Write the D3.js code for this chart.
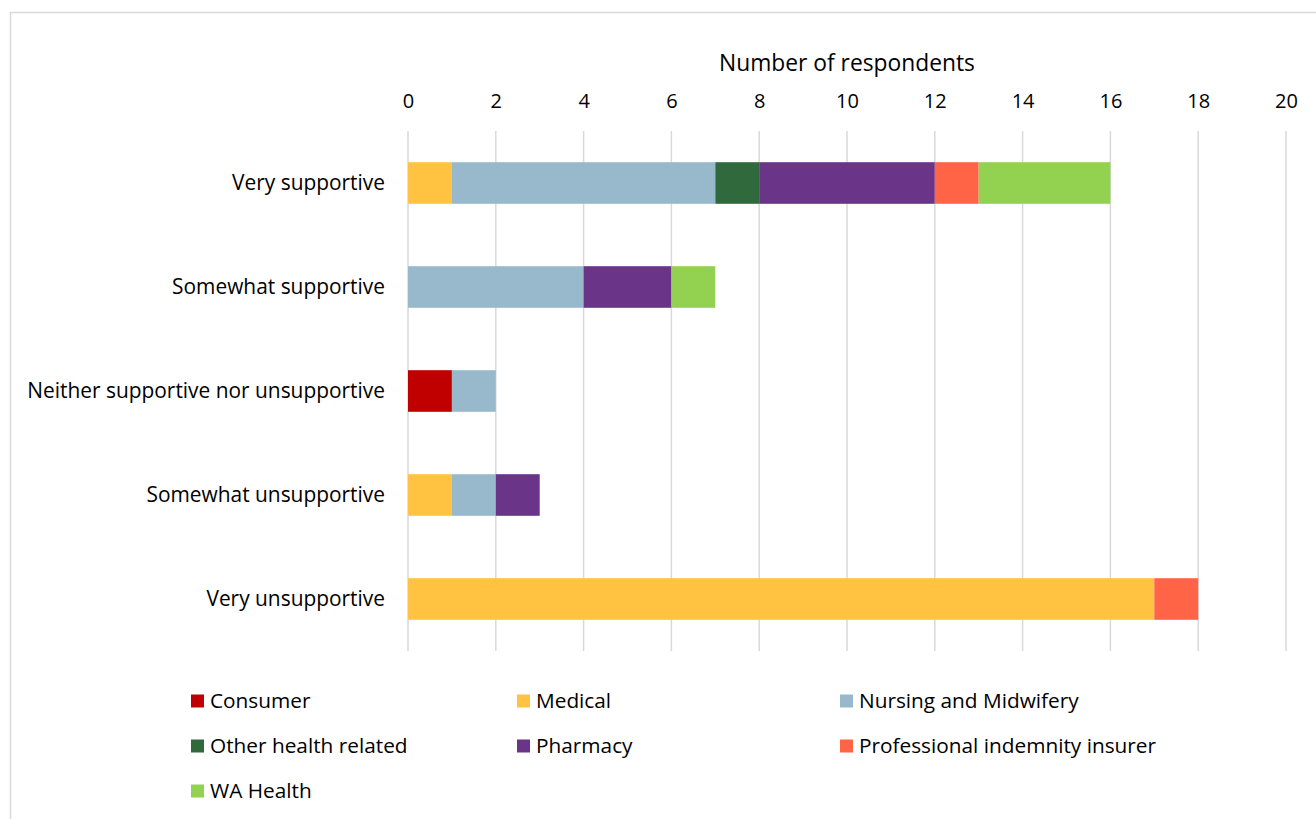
<!DOCTYPE html>
<html>
<head>
<meta charset="utf-8">
<script src="https://cdn.jsdelivr.net/npm/d3@7"></script>
<style>
  html, body { margin: 0; padding: 0; background: #fff; }
  svg { display: block; font-family: "Open Sans", "Noto Sans", sans-serif; }
</style>
</head>
<body>
<svg id="chart" width="1316" height="819"></svg>
<script>
const categories = [
  "Very supportive",
  "Somewhat supportive",
  "Neither supportive nor unsupportive",
  "Somewhat unsupportive",
  "Very unsupportive"
];
const seriesNames = [
  "Consumer",
  "Medical",
  "Nursing and Midwifery",
  "Other health related",
  "Pharmacy",
  "Professional indemnity insurer",
  "WA Health"
];
const seriesColors = ["#C00000", "#FFC341", "#97B9CB", "#30693B", "#6A3489", "#FF6446", "#93D150"];
// one value per category, in category order
const consumer      = [0, 0, 1, 0, 0];
const medical       = [1, 0, 0, 1, 17];
const nursing       = [6, 4, 1, 1, 0];
const otherHealth   = [1, 0, 0, 0, 0];
const pharmacy      = [4, 2, 0, 1, 0];
const indemnity     = [1, 0, 0, 0, 1];
const waHealth      = [3, 1, 0, 0, 0];
const xTicks = [0, 2, 4, 6, 8, 10, 12, 14, 16, 18, 20];
const axisTitle = "Number of respondents";

const seriesValues = [consumer, medical, nursing, otherHealth, pharmacy, indemnity, waHealth];
const rows = categories.map((c, i) => {
  const r = { category: c };
  seriesNames.forEach((s, j) => { r[s] = seriesValues[j][i]; });
  return r;
});

const FONT = "'Open Sans', 'Noto Sans', sans-serif";
const svg = d3.select("#chart");

// outer chart frame
svg.append("rect")
  .attr("x", 10.5).attr("y", 12.5)
  .attr("width", 1320).attr("height", 820)
  .attr("fill", "none").attr("stroke", "#d9d9d9").attr("stroke-width", 1.5);

const x = d3.scaleLinear().domain([0, 20]).range([408, 1286]);
const y = d3.scaleBand().domain(categories).range([131, 651])
  .paddingInner(0.6).paddingOuter(0.3);

// vertical gridlines
svg.append("g")
  .selectAll("line")
  .data(xTicks)
  .join("line")
  .attr("x1", d => x(d)).attr("x2", d => x(d))
  .attr("y1", 131).attr("y2", 651)
  .attr("stroke", "#d9d9d9").attr("stroke-width", 1.5);

// top axis labels
const xAxis = d3.axisTop(x).tickValues(xTicks).tickSize(0).tickPadding(0).tickFormat(d3.format("d"));
const gx = svg.append("g").attr("transform", "translate(0,108)").call(xAxis);
gx.select(".domain").remove();
gx.selectAll("text").attr("font-size", 20).attr("fill", "#000").attr("font-family", FONT);

svg.append("text")
  .attr("x", 847).attr("y", 71)
  .attr("text-anchor", "middle")
  .attr("font-size", 22.8).attr("fill", "#000")
  .text(axisTitle);

// category labels
const yAxis = d3.axisLeft(y).tickSize(0).tickPadding(23);
const gy = svg.append("g").attr("transform", "translate(408,0)").call(yAxis);
gy.select(".domain").remove();
gy.selectAll("text").attr("font-size", 20.9).attr("fill", "#000").attr("font-family", FONT);

// stacked bars
const stack = d3.stack().keys(seriesNames)(rows);
const color = d3.scaleOrdinal().domain(seriesNames).range(seriesColors);

svg.append("g")
  .selectAll("g")
  .data(stack)
  .join("g")
  .attr("fill", d => color(d.key))
  .selectAll("rect")
  .data(d => d.filter(p => p[1] - p[0] > 0))
  .join("rect")
  .attr("x", d => x(d[0]))
  .attr("width", d => x(d[1]) - x(d[0]))
  .attr("y", d => y(d.data.category))
  .attr("height", y.bandwidth());

// legend: three columns
const legendCols = [191, 517, 840];
const legendRows = [701, 746, 791];
const legend = svg.append("g")
  .selectAll("g")
  .data(seriesNames)
  .join("g")
  .attr("transform", (d, i) => `translate(${legendCols[i % 3]},${legendRows[Math.floor(i / 3)]})`);
legend.append("rect")
  .attr("x", 0).attr("y", -6.5)
  .attr("width", 13).attr("height", 13)
  .attr("fill", d => color(d));
legend.append("text")
  .attr("x", 19).attr("y", 0).attr("dy", "0.35em")
  .attr("font-size", 20.8).attr("fill", "#000")
  .text(d => d);
</script>
</body>
</html>
